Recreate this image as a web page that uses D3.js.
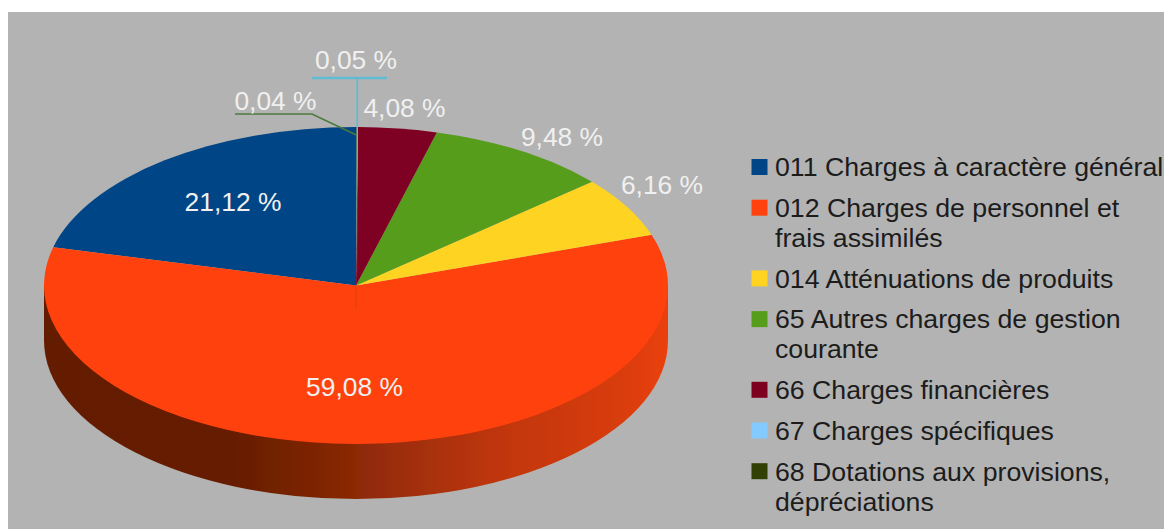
<!DOCTYPE html>
<html>
<head>
<meta charset="utf-8">
<script src="https://cdn.jsdelivr.net/npm/d3@7"></script>
<style>
  html, body { margin: 0; padding: 0; background: #fff; }
  svg { display: block; }
  text { font-family: "Liberation Sans", sans-serif; }
</style>
</head>
<body>
<div id="chart"></div>
<script>
// values, in legend order
var categories = ["011", "012", "014", "65", "66", "67", "68"];
var values = [21.12, 59.08, 6.16, 9.48, 4.08, 0.05, 0.04];
var valueLabels = ["21,12 %", "59,08 %", "6,16 %", "9,48 %", "4,08 %", "0,05 %", "0,04 %"];
var legendLines = [
    ["011 Charges à caractère général"],
    ["012 Charges de personnel et", "frais assimilés"],
    ["014 Atténuations de produits"],
    ["65 Autres charges de gestion", "courante"],
    ["66 Charges financières"],
    ["67 Charges spécifiques"],
    ["68 Dotations aux provisions,", "dépréciations"]
];
var colors = ["#004586", "#ff420e", "#ffd320", "#579d1c", "#7e0021", "#83caff", "#314004"];

var w = 1164;
var h = 529;

// pie geometry
var cx = 356;
var cy = 285.5;
var rx = 312;
var ry = 158.5;
var depth = 55;

// where the value labels sit (centre x, centre y)
var labelAt = [[233, 202], [354.5, 387], [662, 185], [562, 137], [404.5, 108], [356, 60], [275.5, 101]];

var color = d3.scaleOrdinal().domain(categories).range(colors);

var svg = d3.select("#chart")
    .append("svg")
    .attr("width", w)
    .attr("height", h);

var defs = svg.append("defs");

var soft = defs.append("filter").attr("id", "soft");
soft.append("feGaussianBlur").attr("stdDeviation", 0.55);

var wallGrad = defs.append("linearGradient")
    .attr("id", "wall")
    .attr("gradientUnits", "userSpaceOnUse")
    .attr("x1", cx - rx).attr("x2", cx + rx)
    .attr("y1", 0).attr("y2", 0);

var wallStops = [[0, "#641d02"], [0.3, "#651d02"], [0.45, "#802504"], [0.54, "#962c08"], [0.73, "#c0360b"], [0.92, "#d83c0c"], [1, "#ea400e"]];
wallStops.forEach(function(s) {
    wallGrad.append("stop").attr("offset", s[0]).attr("stop-color", s[1]);
});

// the blue leader fades out along the slice edge
var fadeGrad = defs.append("linearGradient")
    .attr("id", "fade")
    .attr("gradientUnits", "userSpaceOnUse")
    .attr("x1", 0).attr("x2", 0)
    .attr("y1", 127).attr("y2", cy);
fadeGrad.append("stop").attr("offset", 0).attr("stop-color", "#62bbd2").attr("stop-opacity", 0.9);
fadeGrad.append("stop").attr("offset", 0.5).attr("stop-color", "#62bbd2").attr("stop-opacity", 0.25);
fadeGrad.append("stop").attr("offset", 1).attr("stop-color", "#62bbd2").attr("stop-opacity", 0);

// grey chart area, the page stays white on the top and left
svg.append("rect")
    .attr("x", 8).attr("y", 12)
    .attr("width", w - 8).attr("height", h - 12)
    .attr("fill", "#b3b3b3");

var chart = svg.append("g").attr("filter", "url(#soft)");

// side of the pie, only the front half is seen
chart.append("path")
    .attr("d", "M" + (cx - rx) + "," + cy
        + "L" + (cx - rx) + "," + (cy + depth)
        + "A" + rx + "," + ry + " 0 0 0 " + (cx + rx) + "," + (cy + depth)
        + "L" + (cx + rx) + "," + cy + "Z")
    .attr("fill", "url(#wall)");

// counter clockwise from 12 o'clock
var pie = d3.pie().sort(null).startAngle(0).endAngle(-2 * Math.PI);
var arcs = pie(values);

var arc = d3.arc().innerRadius(0).outerRadius(rx);

chart.append("g")
    .attr("transform", "translate(" + cx + "," + cy + ") scale(1," + (ry / rx) + ")")
    .selectAll("path")
    .data(arcs)
    .enter().append("path")
    .attr("d", arc)
    .attr("fill", function(d, i) { return color(categories[i]); });

// faint mark under the centre
chart.append("path")
    .attr("d", d3.line()([[cx, cy], [cx, cy + 24]]))
    .attr("fill", "none").attr("stroke", "#c8400f").attr("stroke-width", 1).attr("opacity", 0.6);

// rim point of a slice on the squashed circle
function rim(a) {
    return [cx + rx * Math.sin(a), cy - ry * Math.cos(a)];
}

// leader lines of the two tiny slices
var midA = function(d) { return (d.startAngle + d.endAngle) / 2; };
var p67 = rim(midA(arcs[5]));
var p68 = rim(midA(arcs[6]));
var line = d3.line();

chart.append("path")
    .attr("d", line([[312, 78], [387, 78]]))
    .attr("fill", "none").attr("stroke", "#62bbd2").attr("stroke-width", 2.4);
chart.append("path")
    .attr("d", line([[p67[0], 78], [p67[0], 127]]))
    .attr("fill", "none").attr("stroke", "#62bbd2").attr("stroke-width", 1.8);
chart.append("path")
    .attr("d", line([[p67[0], 127], [p67[0], cy]]))
    .attr("fill", "none").attr("stroke", "url(#fade)").attr("stroke-width", 1.4);
chart.append("path")
    .attr("d", line([[235, 114], [312, 114], [p68[0], p68[1] + 8]]))
    .attr("fill", "none").attr("stroke", "#4c7a3c").attr("stroke-width", 1.6);

// value labels
svg.append("g").selectAll("text")
    .data(valueLabels)
    .enter().append("text")
    .attr("x", function(d, i) { return labelAt[i][0]; })
    .attr("y", function(d, i) { return labelAt[i][1]; })
    .attr("dy", "0.35em")
    .attr("text-anchor", "middle")
    .attr("font-size", 26.4)
    .attr("fill", "#f0f0f0")
    .text(function(d) { return d; });

// legend
var legend = svg.append("g");
var y = 167;
legendLines.forEach(function(lines, i) {
    legend.append("rect")
        .attr("x", 751.5).attr("y", y - 8)
        .attr("width", 16).attr("height", 16)
        .attr("fill", color(categories[i]));
    lines.forEach(function(t, k) {
        legend.append("text")
            .attr("x", 775)
            .attr("y", y + k * 30)
            .attr("dy", "0.35em")
            .attr("font-size", 26.7)
            .attr("fill", "#1c1c1c")
            .text(t);
    });
    y += lines.length * 30 + 10.7;
});
</script>
</body>
</html>
